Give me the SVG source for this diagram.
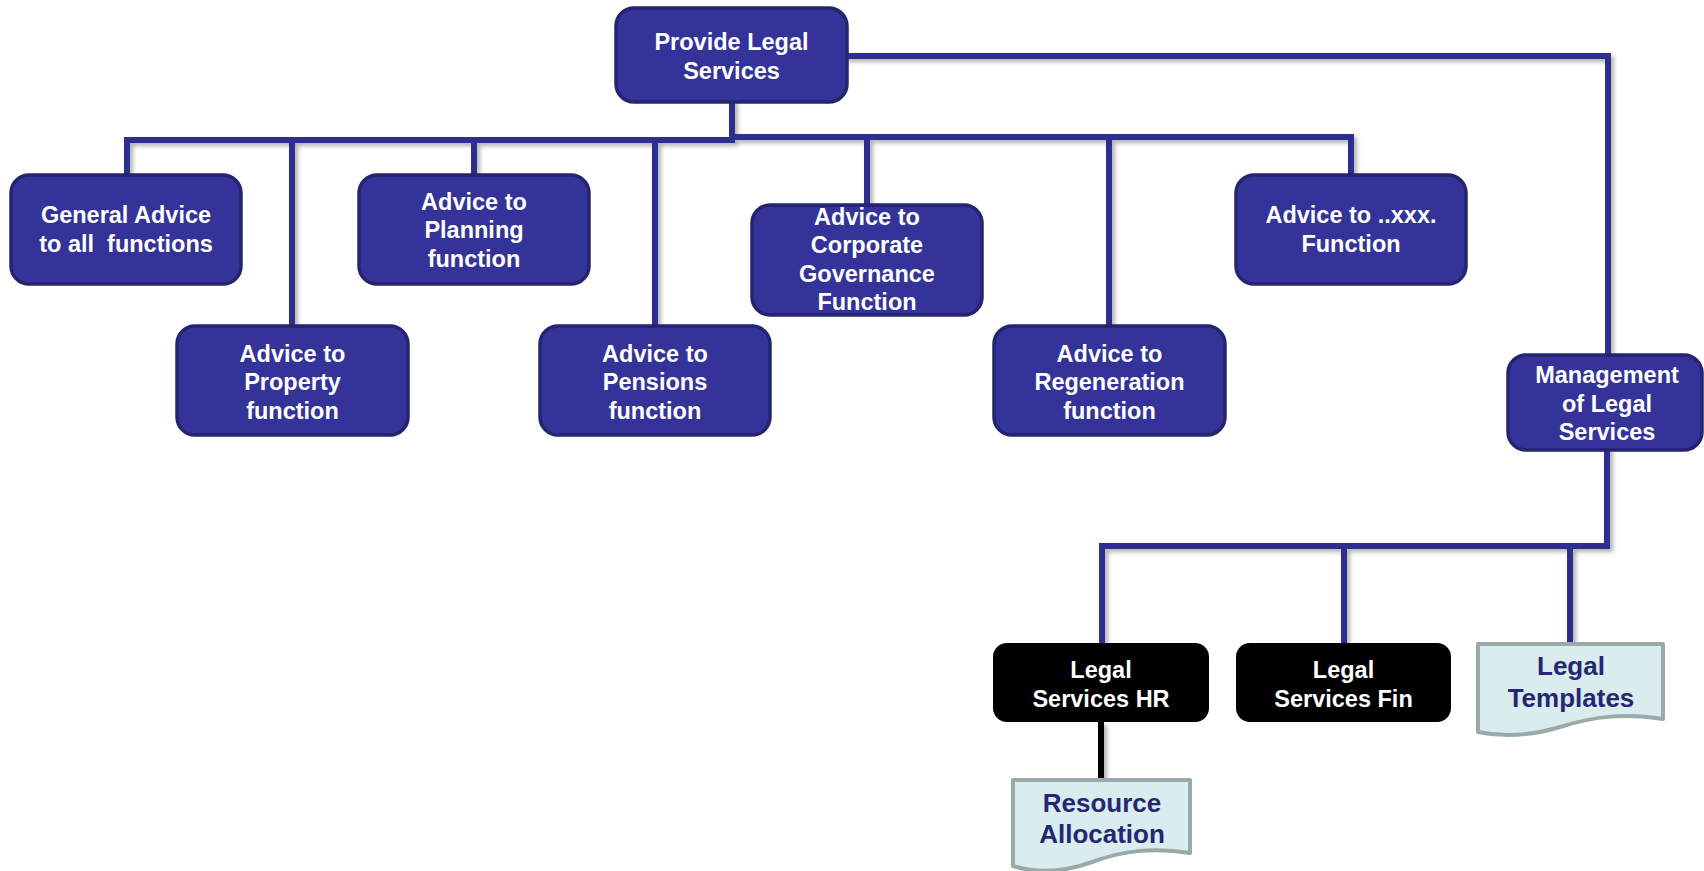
<svg xmlns="http://www.w3.org/2000/svg" width="1704" height="871" viewBox="0 0 1704 871">
  <defs>
    <filter id="lineShadow" x="-10%" y="-10%" width="130%" height="130%">
      <feDropShadow dx="3" dy="3" stdDeviation="2" flood-color="#000" flood-opacity="0.3"/>
    </filter>
  </defs>
  <style>
    .box { fill: #333399; stroke: #25256f; stroke-width: 3.5; }
    .dark { fill: #000; }
    .doc { fill: #d9ecee; stroke: #9aaaaa; stroke-width: 4; stroke-linejoin: round; }
    .link { fill: none; stroke: #2e2e8f; stroke-width: 6; stroke-linejoin: miter; stroke-linecap: square; }
    .blink { fill: none; stroke: #000; stroke-width: 6; }
    text { font-family: "Liberation Sans", Arial, sans-serif; font-weight: bold; text-anchor: middle; }
    .lbl { fill: #fff; font-size: 23.5px; }
    .dlbl { fill: #262673; font-size: 26px; }
  </style>

  <rect width="1704" height="871" fill="#fff"/>

  <!-- connectors -->
  <g id="connectors" filter="url(#lineShadow)">
    <path class="link" d="M847,56 H1608 V355"/>
    <path class="link" d="M732,102 V140"/>
    <path class="link" d="M127,175 V140 H732"/>
    <path class="link" d="M732,137 H1351 V175"/>
    <path class="link" d="M292,140 V326"/>
    <path class="link" d="M474,140 V175"/>
    <path class="link" d="M655,140 V326"/>
    <path class="link" d="M867,137 V205"/>
    <path class="link" d="M1109,137 V326"/>
    <path class="link" d="M1607,450 V546 H1102 V643"/>
    <path class="link" d="M1344,547 V643"/>
    <path class="link" d="M1570,547 V644"/>
    <path class="blink" d="M1101,722 V780"/>
  </g>

  <!-- top node -->
  <g id="provide-legal-services">
    <rect class="box" x="616" y="8" width="231" height="94" rx="18"/>
    <text class="lbl" x="731.5" y="50">Provide Legal</text>
    <text class="lbl" x="731.5" y="79">Services</text>
  </g>

  <!-- advice nodes -->
  <g id="general-advice">
    <rect class="box" x="11" y="175" width="230" height="109" rx="18"/>
    <text class="lbl" x="126" y="223">General Advice</text>
    <text class="lbl" x="126" y="252" xml:space="preserve">to all  functions</text>
  </g>

  <g id="advice-property">
    <rect class="box" x="177" y="326" width="231" height="109" rx="18"/>
    <text class="lbl" x="292.5" y="361.5">Advice to</text>
    <text class="lbl" x="292.5" y="390">Property</text>
    <text class="lbl" x="292.5" y="418.5">function</text>
  </g>

  <g id="advice-planning">
    <rect class="box" x="359" y="175" width="230" height="109" rx="18"/>
    <text class="lbl" x="474" y="209.5">Advice to</text>
    <text class="lbl" x="474" y="238">Planning</text>
    <text class="lbl" x="474" y="266.5">function</text>
  </g>

  <g id="advice-pensions">
    <rect class="box" x="540" y="326" width="230" height="109" rx="18"/>
    <text class="lbl" x="655" y="361.5">Advice to</text>
    <text class="lbl" x="655" y="390">Pensions</text>
    <text class="lbl" x="655" y="418.5">function</text>
  </g>

  <g id="advice-corporate-governance">
    <rect class="box" x="752" y="205" width="230" height="110" rx="18"/>
    <text class="lbl" x="867" y="225">Advice to</text>
    <text class="lbl" x="867" y="253">Corporate</text>
    <text class="lbl" x="867" y="282">Governance</text>
    <text class="lbl" x="867" y="310">Function</text>
  </g>

  <g id="advice-regeneration">
    <rect class="box" x="994" y="326" width="231" height="109" rx="18"/>
    <text class="lbl" x="1109.5" y="361.5">Advice to</text>
    <text class="lbl" x="1109.5" y="390">Regeneration</text>
    <text class="lbl" x="1109.5" y="418.5">function</text>
  </g>

  <g id="advice-xxx">
    <rect class="box" x="1236" y="175" width="230" height="109" rx="18"/>
    <text class="lbl" x="1351" y="223">Advice to ..xxx.</text>
    <text class="lbl" x="1351" y="252">Function</text>
  </g>

  <!-- management branch -->
  <g id="management">
    <rect class="box" x="1508" y="355" width="194" height="95" rx="18"/>
    <text class="lbl" x="1607" y="383">Management</text>
    <text class="lbl" x="1607" y="412">of Legal</text>
    <text class="lbl" x="1607" y="440">Services</text>
  </g>

  <g id="legal-services-hr">
    <rect class="dark" x="993" y="643" width="216" height="79" rx="14"/>
    <text class="lbl" x="1101" y="678">Legal</text>
    <text class="lbl" x="1101" y="707">Services HR</text>
  </g>

  <g id="legal-services-fin">
    <rect class="dark" x="1236" y="643" width="215" height="79" rx="14"/>
    <text class="lbl" x="1343.5" y="678">Legal</text>
    <text class="lbl" x="1343.5" y="707">Services Fin</text>
  </g>

  <!-- documents -->
  <g id="legal-templates">
    <path class="doc" d="M1478,644 H1663 V719 C1625,713 1595,716 1560,727 C1530,736 1502,737 1478,732 Z"/>
    <text class="dlbl" x="1571" y="675">Legal</text>
    <text class="dlbl" x="1571" y="707">Templates</text>
  </g>

  <g id="resource-allocation">
    <path class="doc" d="M1013,780 H1190 V853 C1152,847 1122,851 1092,862 C1062,873 1036,873 1013,866 Z"/>
    <text class="dlbl" x="1102" y="812">Resource</text>
    <text class="dlbl" x="1102" y="843">Allocation</text>
  </g>
</svg>
